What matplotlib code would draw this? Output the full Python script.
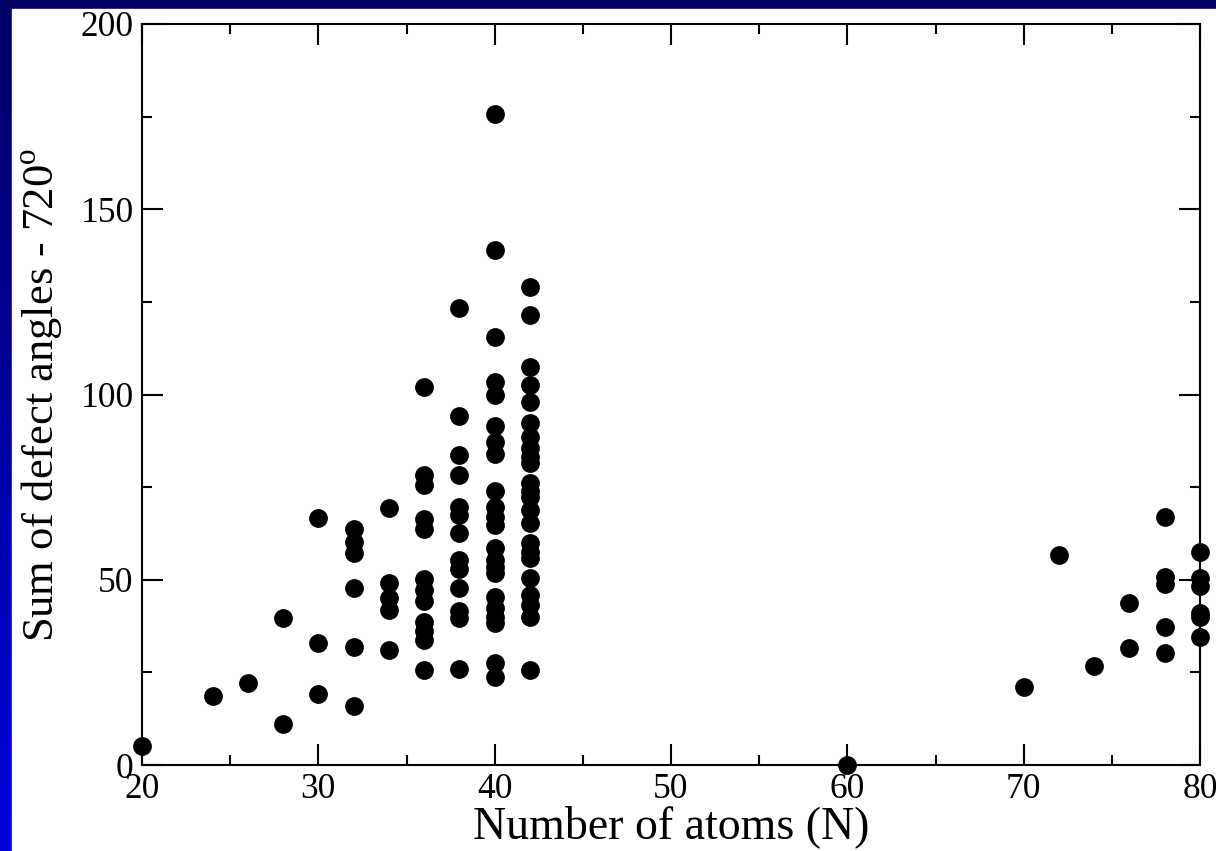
import numpy as np
import matplotlib
matplotlib.use("Agg")
import matplotlib.pyplot as plt
from matplotlib.patches import Rectangle

# number of atoms (N) -> sum of defect angles - 720 for every structure with that N
n_values = [20, 24, 26, 28, 30, 32, 34, 36, 38, 40, 42, 60, 70, 72, 74, 76, 78, 80]
defects_by_n = [
    [5.2],
    [18.6],
    [22.2],
    [39.6, 11.1],
    [66.8, 32.9, 19.2],
    [63.6, 60.3, 57.1, 47.7, 31.8, 16.0],
    [69.4, 49.0, 45.0, 41.8, 31.0],
    [102.1, 78.4, 75.5, 66.3, 63.6, 50.1, 47.2, 44.3, 38.6, 36.2, 33.7, 25.6],
    [123.3, 94.2, 83.6, 78.3, 69.7, 67.5, 62.5, 55.3, 52.8, 47.9, 41.6, 39.6, 25.9],
    [175.7, 139.0, 115.4, 103.4, 99.8, 91.5, 87.2, 83.9, 74.0, 69.7, 67.0, 64.8,
     58.5, 55.3, 53.5, 51.7, 45.4, 42.3, 40.0, 38.2, 27.6, 23.7],
    [129.1, 121.4, 107.3, 102.5, 98.0, 92.2, 88.6, 85.5, 83.0, 81.4, 76.0, 74.0, 72.4,
     68.8, 65.2, 59.8, 57.5, 55.8, 50.4, 45.9, 43.2, 40.0, 25.6],
    [0.0],
    [21.1],
    [56.7],
    [26.7],
    [43.7, 31.6],
    [67.0, 50.8, 48.8, 37.3, 30.3],
    [57.6, 50.4, 48.3, 40.9, 39.9, 34.5],
]

x_ticks = [20, 30, 40, 50, 60, 70, 80]
y_ticks = [0, 50, 100, 150, 200]

n_atoms = []
defect_sum = []
for n, vals in zip(n_values, defects_by_n):
    n_atoms += [n] * len(vals)
    defect_sum += vals

plt.rcParams['font.family'] = ['Liberation Serif', 'DejaVu Serif']
plt.rcParams['mathtext.fontset'] = 'custom'
plt.rcParams['mathtext.rm'] = 'Liberation Serif'

fig = plt.figure(figsize=(12.16, 8.51), dpi=100)

# blue gradient frame behind a white panel
bg = fig.add_axes([0, 0, 1, 1], zorder=-10)
grad = np.linspace(0, 1, 256).reshape(-1, 1)
cmap = matplotlib.colors.LinearSegmentedColormap.from_list('frame', ['#000066', '#0000dd'])
bg.imshow(grad, aspect='auto', cmap=cmap, extent=[0, 1, 0, 1], origin='upper')
bg.add_patch(Rectangle((12 / 1216, 0), 1, 1 - 9 / 851, color='white'))
bg.set_xlim(0, 1)
bg.set_ylim(0, 1)
bg.axis('off')

ax = fig.add_axes([142 / 1216, 1 - 765 / 851, (1200 - 142) / 1216, (765 - 24) / 851])
ax.plot(n_atoms, defect_sum, linestyle='', marker='o', markersize=12.5,
        color='black', clip_on=False, zorder=5)

ax.set_xlim(20, 80)
ax.set_ylim(0, 200)
ax.set_xticks(x_ticks)
ax.set_yticks(y_ticks)
ax.set_xticks(np.arange(25, 80, 10), minor=True)
ax.set_yticks(np.arange(25, 200, 50), minor=True)
ax.tick_params(which='both', direction='in', top=True, right=True, width=1.5,
               labelsize=25.5, color='black')
ax.tick_params(which='major', length=15, pad=6)
ax.tick_params(which='minor', length=7.5)
for s in ax.spines.values():
    s.set_linewidth(1.5)

ax.set_xlabel('Number of atoms (N)', fontsize=33, labelpad=-1)
ax.set_ylabel(r'Sum of defect angles - 720$^{\rm o}$', fontsize=32, labelpad=12)

fig.savefig('out.png', dpi=100)
